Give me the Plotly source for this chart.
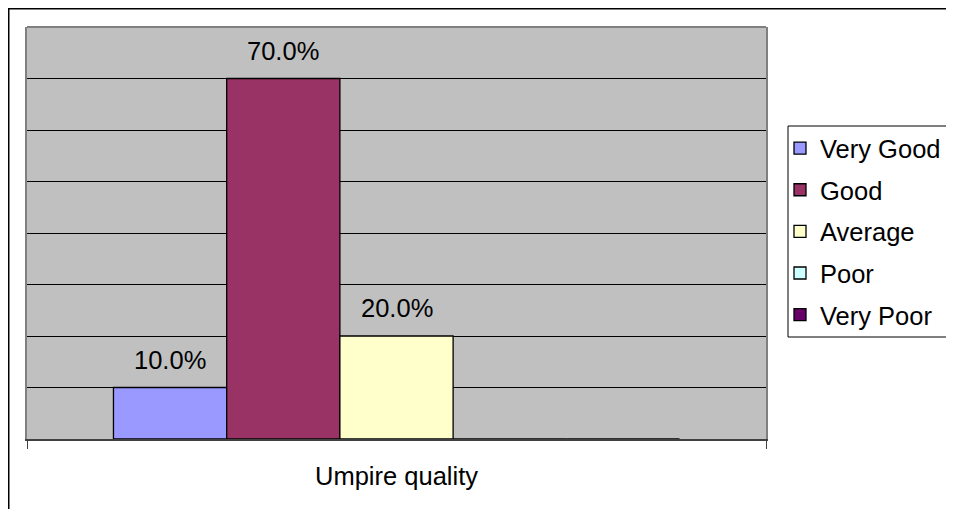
import plotly.graph_objects as go

categories = ["Umpire quality"]
series_names = ["Very Good", "Good", "Average", "Poor", "Very Poor"]
series_values = [0.10, 0.70, 0.20, 0.0, 0.0]
series_colors = ["#9999FF", "#993366", "#FFFFCC", "#CCFFFF", "#660066"]

# page body has an 8px margin; the figure is sized to fit inside it
W, H = 938, 501
ml, mt = 19, 19
pw, ph = 739, 412
mr, mb = W - ml - pw, H - mt - ph
FONT = "Liberation Sans, Arial, sans-serif"
FS = 25.5
bargap = 0.234


def px(xpix):
    return (xpix - ml) / pw


def py(ypix):
    return (mt + ph - ypix) / ph


fig = go.Figure()
for i, (name, val, col) in enumerate(zip(series_names, series_values, series_colors)):
    fig.add_trace(go.Bar(
        name=name, x=categories, y=[val],
        marker=dict(color=col, line=dict(color="black", width=1.3)),
        legendgroup=name,
    ))

# value labels above bars (only non-zero values)
w = 1 - bargap
n = len(series_values)
for i, val in enumerate(series_values):
    if val > 0:
        fig.add_annotation(
            x=-w / 2 + (i + 0.5) * w / n, y=val, xref="x", yref="y",
            text=f"{val*100:.1f}%", showarrow=False,
            yanchor="middle", yshift=28,
            font=dict(family=FONT, size=FS, color="black"),
        )

# outer chart-area border
fig.add_shape(type="rect", xref="paper", yref="paper",
              x0=px(0.75), x1=1.5, y0=-0.5, y1=py(0.75),
              line=dict(color="black", width=1.5), fillcolor="rgba(0,0,0,0)", layer="below")
# legend box
fig.add_shape(type="rect", xref="paper", yref="paper",
              x0=px(780), x1=1.5, y0=py(329), y1=py(118),
              line=dict(color="black", width=1), fillcolor="white", layer="below")
# top border of plot area
fig.add_shape(type="line", xref="paper", yref="paper", x0=0, x1=1, y0=1, y1=1,
              line=dict(color="#808080", width=2))

fig.update_layout(
    width=W, height=H,
    margin=dict(l=ml, r=mr, t=mt, b=mb, autoexpand=False),
    paper_bgcolor="white", plot_bgcolor="#C0C0C0",
    barmode="group", bargap=bargap, bargroupgap=0,
    font=dict(family=FONT, size=FS, color="black"),
    showlegend=True,
    legend=dict(
        x=px(772), y=py(117), xanchor="left", yanchor="top",
        bgcolor="rgba(0,0,0,0)", borderwidth=0,
        font=dict(family=FONT, size=FS, color="black"),
        tracegroupgap=5.5, traceorder="grouped",
    ),
    xaxis=dict(
        type="category", showline=True, linecolor="#404040", linewidth=2,
        ticks="outside", ticklen=8, tickcolor="#404040", tickwidth=1,
        tickson="boundaries", showgrid=False, ticklabelstandoff=13,
        tickfont=dict(family=FONT, size=FS, color="black"),
    ),
    yaxis=dict(
        range=[0, 0.8], dtick=0.1, showgrid=True, gridcolor="black", gridwidth=1,
        showticklabels=False, ticks="", zeroline=False,
        showline=True, linecolor="#808080", linewidth=2, mirror=True,
    ),
)

fig.write_html("out.html")
